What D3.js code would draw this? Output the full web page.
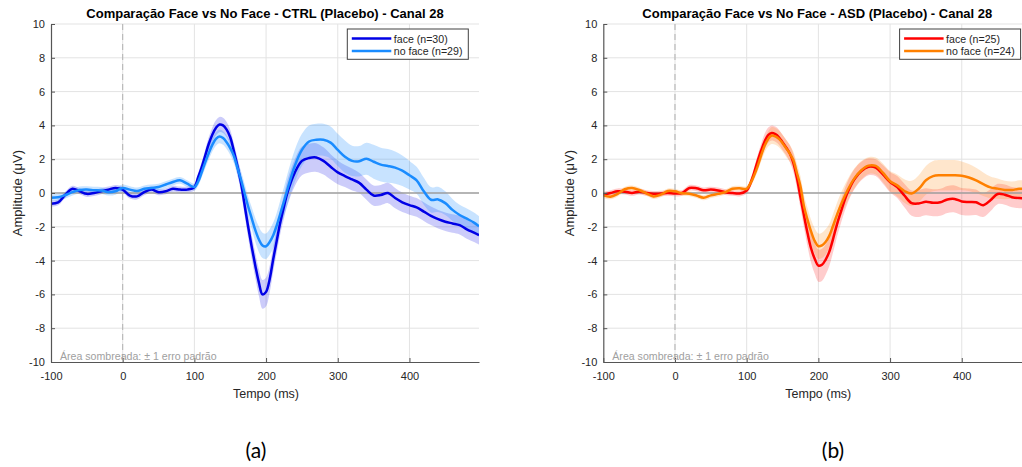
<!DOCTYPE html>
<html><head><meta charset="utf-8">
<script src="https://cdn.jsdelivr.net/npm/d3@7"></script>
<style>body{margin:0;background:#fff}svg{display:block}text{font-family:"Liberation Sans",Arial,sans-serif}</style>
</head><body>
<svg id="c" width="1022" height="467"></svg>
<script>
// ---------- DATA ----------
const times = [-100,-90,-80,-70,-60,-50,-40,-30,-20,-10,0,10,20,30,40,50,60,70,80,90,100,
  105,110,115,120,125,130,135,140,145,150,155,160,165,170,175,180,185,190,195,200,205,210,215,220,225,230,
  240,250,260,270,280,290,300,310,320,330,340,350,360,370,380,390,400,410,420,430,440,450,460,470,480,490,497];

// CTRL face (n=30)
const faceCTRL = [-0.63,-0.55,-0.1,0.25,0.1,-0.05,0.0,0.1,0.2,0.3,0.2,-0.15,-0.2,0.05,0.2,0.05,0.1,0.25,0.2,0.2,0.35,
  0.9,1.5,2.2,2.9,3.45,3.85,4.05,4.0,3.75,3.3,2.5,1.6,0.6,-0.7,-2.0,-3.2,-4.3,-5.3,-6.0,-5.85,-5.1,-3.9,-2.8,-1.7,-0.8,0.05,
  1.2,1.9,2.07,2.1,1.9,1.55,1.22,1.0,0.8,0.6,0.2,-0.15,-0.12,0.0,-0.3,-0.55,-0.72,-0.85,-1.1,-1.35,-1.55,-1.7,-1.8,-1.9,-2.15,-2.35,-2.5];
const seFaceCTRL = [0.18,0.18,0.18,0.18,0.18,0.18,0.18,0.18,0.18,0.18,0.18,0.18,0.18,0.18,0.18,0.18,0.18,0.18,0.18,0.18,0.2,
  0.25,0.3,0.35,0.4,0.42,0.45,0.45,0.45,0.45,0.45,0.45,0.5,0.55,0.6,0.65,0.7,0.75,0.8,0.85,0.85,0.8,0.75,0.7,0.7,0.7,0.75,
  0.8,0.85,0.85,0.85,0.8,0.75,0.7,0.65,0.65,0.6,0.6,0.6,0.6,0.6,0.6,0.58,0.56,0.55,0.55,0.55,0.55,0.55,0.55,0.55,0.55,0.55,0.55];

// CTRL no face (n=29)
const nofaceCTRL = [-0.28,-0.25,-0.12,0.05,0.18,0.2,0.17,0.15,0.05,0.1,0.3,0.2,0.12,0.25,0.3,0.35,0.5,0.65,0.75,0.55,0.35,
  0.65,1.2,1.8,2.35,2.85,3.2,3.35,3.25,3.0,2.65,2.2,1.5,0.8,0.0,-0.8,-1.5,-2.2,-2.75,-3.1,-3.15,-2.9,-2.5,-1.9,-1.2,-0.5,0.25,
  1.6,2.55,3.05,3.15,3.15,2.98,2.55,2.15,1.9,1.88,2.03,1.85,1.68,1.6,1.5,1.32,1.05,0.75,0.1,-0.4,-0.38,-0.6,-1.0,-1.3,-1.52,-1.75,-1.97];
const seNofaceCTRL = [0.2,0.2,0.2,0.2,0.2,0.2,0.2,0.2,0.2,0.2,0.2,0.2,0.2,0.2,0.2,0.2,0.2,0.2,0.2,0.2,0.2,
  0.25,0.3,0.35,0.38,0.4,0.4,0.4,0.4,0.4,0.4,0.42,0.45,0.5,0.55,0.6,0.65,0.7,0.75,0.75,0.75,0.75,0.75,0.75,0.8,0.85,0.9,
  0.95,0.95,0.95,0.95,0.95,0.95,0.95,0.95,0.9,0.9,0.95,1.0,1.0,1.0,0.95,0.9,0.85,0.8,0.8,0.75,0.75,0.7,0.65,0.6,0.6,0.6,0.6];

// ASD face (n=25)
const faceASD = [-0.1,0.0,0.1,0.08,0.0,0.08,0.0,-0.05,-0.03,0.0,-0.03,0.0,0.3,0.28,0.16,0.2,0.15,0.05,0.0,-0.03,0.15,
  0.55,1.15,1.85,2.5,3.05,3.42,3.55,3.48,3.3,3.0,2.7,2.35,1.8,0.9,-0.25,-1.35,-2.4,-3.3,-3.9,-4.3,-4.25,-3.95,-3.5,-2.8,-2.0,-1.3,
  -0.05,0.8,1.3,1.55,1.5,1.1,0.65,0.35,-0.15,-0.6,-0.62,-0.52,-0.58,-0.55,-0.38,-0.35,-0.5,-0.53,-0.55,-0.72,-0.43,-0.06,-0.1,-0.25,-0.3,-0.3,-0.3];
const seFaceASD = [0.17,0.17,0.17,0.17,0.17,0.17,0.17,0.17,0.17,0.17,0.17,0.17,0.17,0.17,0.17,0.17,0.17,0.17,0.17,0.17,0.2,
  0.25,0.3,0.35,0.4,0.45,0.45,0.45,0.45,0.45,0.45,0.45,0.5,0.55,0.6,0.65,0.7,0.8,0.85,0.9,0.95,0.95,0.9,0.85,0.8,0.75,0.7,
  0.65,0.6,0.55,0.5,0.5,0.55,0.6,0.65,0.7,0.75,0.8,0.8,0.8,0.8,0.8,0.8,0.8,0.8,0.75,0.7,0.65,0.6,0.6,0.6,0.6,0.6,0.6];

// ASD no face (n=24)
const nofaceASD = [-0.14,-0.22,-0.05,0.22,0.3,0.18,-0.02,-0.2,-0.1,0.12,0.1,-0.02,-0.04,-0.15,-0.28,-0.14,-0.05,0.05,0.25,0.28,0.25,
  0.55,1.0,1.55,2.2,2.8,3.2,3.4,3.35,3.2,2.95,2.65,2.35,1.95,1.2,0.4,-0.8,-1.6,-2.3,-2.85,-3.15,-3.1,-2.9,-2.55,-2.0,-1.4,-0.85,
  0.1,0.85,1.35,1.62,1.6,1.2,0.7,0.45,0.12,-0.03,0.25,0.75,1.0,1.05,1.05,1.05,1.02,0.92,0.75,0.52,0.33,0.26,0.18,0.18,0.25,0.26,0.26];
const seNofaceASD = [0.15,0.15,0.15,0.15,0.15,0.15,0.15,0.15,0.15,0.15,0.15,0.15,0.15,0.15,0.15,0.15,0.15,0.15,0.15,0.15,0.15,
  0.2,0.25,0.3,0.35,0.4,0.45,0.5,0.5,0.5,0.5,0.5,0.5,0.5,0.55,0.6,0.65,0.7,0.7,0.75,0.75,0.75,0.75,0.7,0.7,0.7,0.7,
  0.65,0.6,0.55,0.5,0.5,0.55,0.6,0.65,0.7,0.75,0.8,0.85,0.9,0.9,0.9,0.9,0.85,0.8,0.75,0.7,0.65,0.6,0.55,0.5,0.5,0.5,0.5];

const xTicks = [-100,0,100,200,300,400];
const yTicks = [-10,-8,-6,-4,-2,0,2,4,6,8,10];
const titles = ["Comparação Face vs No Face - CTRL (Placebo) - Canal 28",
                "Comparação Face vs No Face - ASD (Placebo) - Canal 28"];
const legendCTRL = ["face (n=30)","no face (n=29)"];
const legendASD = ["face (n=25)","no face (n=24)"];
const panelLabels = ["(a)","(b)"];
const noteText = "Área sombreada: ± 1 erro padrão";
const xLabel = "Tempo (ms)";
const yLabel = "Amplitude (\u03bcV)";

// ---------- DRAW ----------
const svg = d3.select("#c");
const panels = [
  {left:51, title:titles[0], label:panelLabels[0], labelX:256, legend:legendCTRL,
   series:[{v:faceCTRL,se:seFaceCTRL,c:"#0000e6",fo:0.2},{v:nofaceCTRL,se:seNofaceCTRL,c:"#1a8cff",fo:0.24}]},
  {left:603.3, title:titles[1], label:panelLabels[1], labelX:833, legend:legendASD,
   series:[{v:faceASD,se:seFaceASD,c:"#ff0000",fo:0.2},{v:nofaceASD,se:seNofaceASD,c:"#ff8000",fo:0.2}]}
];
const W = 428, plotTop = 24, plotBottom = 362;

panels.forEach((p,pi)=>{
  const g = svg.append("g");
  const x = d3.scaleLinear().domain([-100,497]).range([p.left, p.left+W]);
  const y = d3.scaleLinear().domain([-10,10]).range([plotBottom, plotTop]);
  const cid = "clip"+pi;
  svg.append("clipPath").attr("id",cid).append("rect")
    .attr("x",p.left).attr("y",plotTop).attr("width",W).attr("height",plotBottom-plotTop);

  // grid
  g.append("g").selectAll("line").data(xTicks.filter(t=>t>-100)).join("line")
    .attr("x1",d=>x(d)).attr("x2",d=>x(d)).attr("y1",plotTop).attr("y2",plotBottom)
    .attr("stroke","#e3e3e3").attr("stroke-width",1);
  g.append("g").selectAll("line").data(yTicks.filter(t=>t>-10)).join("line")
    .attr("x1",p.left).attr("x2",p.left+W).attr("y1",d=>y(d)).attr("y2",d=>y(d))
    .attr("stroke","#e3e3e3").attr("stroke-width",1);

  const plot = g.append("g").attr("clip-path",`url(#${cid})`);
  const rows = s => times.map((t,i)=>({t, v:s.v[i], se:s.se[i]}));
  const area = d3.area().x(d=>x(d.t)).y0(d=>y(d.v-d.se)).y1(d=>y(d.v+d.se)).curve(d3.curveCatmullRom);
  const line = d3.line().x(d=>x(d.t)).y(d=>y(d.v)).curve(d3.curveCatmullRom);

  p.series.forEach(s=>{
    plot.append("path").datum(rows(s)).attr("d",area).attr("fill",s.c).attr("fill-opacity",s.fo).attr("stroke","none");
  });
  // zero line and stimulus onset
  plot.append("line").attr("x1",p.left).attr("x2",p.left+W).attr("y1",y(0)).attr("y2",y(0))
    .attr("stroke","#a0a0a0").attr("stroke-width",1.5);
  plot.append("line").attr("x1",x(0)).attr("x2",x(0)).attr("y1",plotTop).attr("y2",plotBottom)
    .attr("stroke","#b0b0b0").attr("stroke-width",1).attr("stroke-dasharray","6,4");
  p.series.forEach(s=>{
    plot.append("path").datum(rows(s)).attr("d",line).attr("fill","none").attr("stroke",s.c).attr("stroke-width",2.5);
  });

  // axes
  const ax = g.append("g").attr("transform",`translate(0,${plotBottom})`)
    .call(d3.axisBottom(x).tickValues(xTicks).tickFormat(d=>String(d)).tickSizeInner(-4).tickSizeOuter(0).tickPadding(10));
  const ay = g.append("g").attr("transform",`translate(${p.left},0)`)
    .call(d3.axisLeft(y).tickValues(yTicks).tickFormat(d=>String(d)).tickSizeInner(-4).tickSizeOuter(0).tickPadding(6));
  [ax,ay].forEach(a=>{
    a.select(".domain").attr("stroke","#555").attr("stroke-width",1.2);
    a.selectAll(".tick line").attr("stroke","#555");
    a.selectAll(".tick text").attr("fill","#262626").style("font-size","11px").style("font-family","'Liberation Sans',Arial,sans-serif");
  });

  // labels
  const cx = p.left + 214;
  g.append("text").attr("x",cx).attr("y",18).attr("text-anchor","middle")
    .style("font-size","13px").style("font-weight","bold").attr("fill","#000").text(p.title);
  g.append("text").attr("x",cx+1).attr("y",397.5).attr("text-anchor","middle")
    .style("font-size","12.5px").attr("fill","#262626").text(xLabel);
  g.append("text").attr("transform",`translate(${p.left-29.5},193) rotate(-90)`).attr("text-anchor","middle")
    .style("font-size","13px").attr("fill","#262626").text(yLabel);
  g.append("text").attr("x",p.left+9).attr("y",359.5)
    .style("font-size","10.6px").attr("fill","#a0a0a0").text(noteText);
  g.append("text").attr("x",p.labelX).attr("y",458).attr("text-anchor","middle")
    .style("font-size","21px").style("font-family","Lato,'Open Sans',sans-serif").attr("fill","#000").text(p.label);

  // legend
  const lx = p.left + 296.3, ly = 29;
  g.append("rect").attr("x",lx).attr("y",ly).attr("width",121).attr("height",30.3)
    .attr("fill","#fff").attr("stroke","#404040").attr("stroke-width",1);
  p.legend.forEach((txt,i)=>{
    const yy = ly + 9.5 + i*12.4;
    g.append("line").attr("x1",lx+4.5).attr("x2",lx+44).attr("y1",yy).attr("y2",yy)
      .attr("stroke",p.series[i].c).attr("stroke-width",2.5);
    g.append("text").attr("x",lx+46.5).attr("y",yy+4)
      .style("font-size","10.6px").attr("fill","#262626").text(txt);
  });
});
</script>
</body></html>
